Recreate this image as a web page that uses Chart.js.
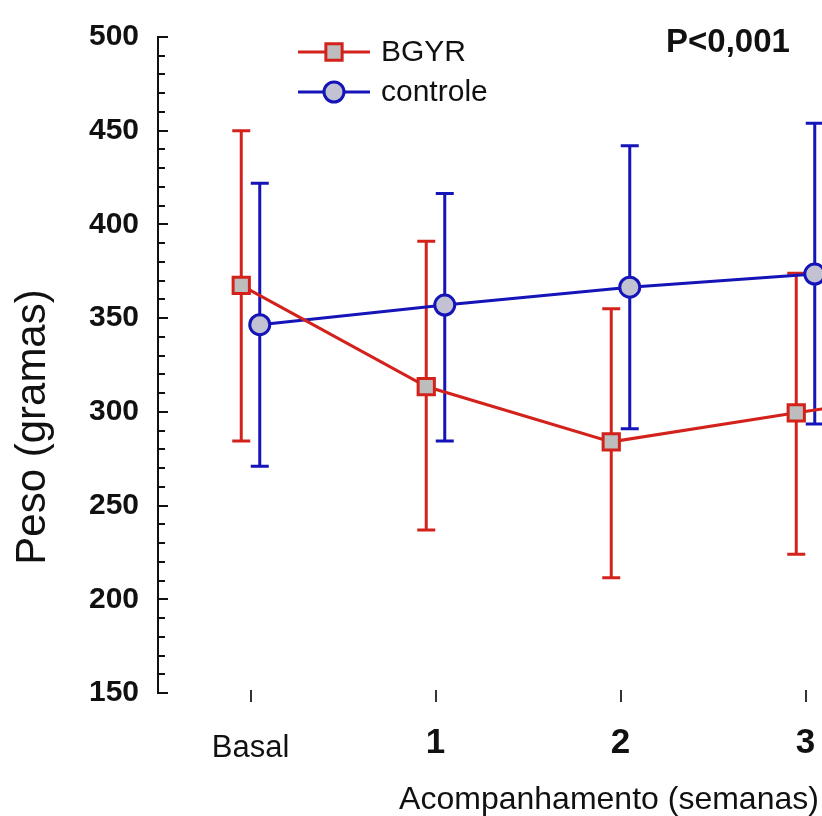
<!DOCTYPE html>
<html>
<head>
<meta charset="utf-8">
<script src="https://cdn.jsdelivr.net/npm/chart.js@4.4.1/dist/chart.umd.min.js"></script>
<style>
  html, body { margin: 0; padding: 0; overflow: hidden; background: #fff; width: 822px; height: 816px; }
  canvas { display: block; }
</style>
</head>
<body>
<canvas id="c" width="1100" height="816"></canvas>
<script>
// Follow-up points (weeks)
const weeks = ['Basal', '1', '2', '3', '4'];

// Body weight (grams): mean and error-bar limits per group
const bgyrMean  = [367.5, 313.5, 284.0, 299.5, 314.0];
const bgyrUpper = [450.0, 391.0, 355.0, 374.0, 390.0];
const bgyrLower = [284.5, 237.0, 211.5, 224.0, 238.0];

const controleMean  = [346.5, 357.0, 366.5, 373.5, 376.0];
const controleUpper = [422.0, 416.5, 442.0, 454.0, 452.0];
const controleLower = [271.0, 284.5, 291.0, 293.5, 300.0];

const yTicks = [150, 200, 250, 300, 350, 400, 450, 500];

const FONT = "'Liberation Sans', Arial, Helvetica, sans-serif";
const RED = '#d3221c';
const BLUE = '#1414b8';
const INK = '#111111';
const SHIFT = 0.05;   // side-by-side offset of the two groups

function points(mean, dx) {
  return mean.map((v, i) => ({ x: i + dx, y: v }));
}

const groupStyles = [
  { label: 'BGYR', shape: 'rect', radius: 11.5, border: RED, fill: '#bdbdbd' },
  { label: 'controle', shape: 'circle', radius: 10, border: BLUE, fill: '#c2c2d2' }
];

function drawMarker(ctx, style, cx, cy) {
  ctx.save();
  ctx.lineWidth = 3;
  ctx.strokeStyle = style.border;
  ctx.fillStyle = style.fill;
  ctx.beginPath();
  if (style.shape === 'rect') {
    const s = style.radius * Math.SQRT1_2;
    ctx.rect(cx - s, cy - s, 2 * s, 2 * s);
  } else {
    ctx.arc(cx, cy, style.radius, 0, Math.PI * 2);
  }
  ctx.fill();
  ctx.stroke();
  ctx.restore();
}

const decorations = {
  id: 'decorations',
  beforeDatasetsDraw(chart) {
    const { ctx, scales: { x, y } } = chart;
    const bars = [
      [bgyrUpper, bgyrLower, -SHIFT, RED],
      [controleUpper, controleLower, SHIFT, BLUE]
    ];
    ctx.save();
    ctx.lineWidth = 3;
    ctx.lineCap = 'butt';
    for (const [up, lo, dx, col] of bars) {
      ctx.strokeStyle = col;
      up.forEach((u, i) => {
        const px = x.getPixelForValue(i + dx);
        const p1 = y.getPixelForValue(u);
        const p2 = y.getPixelForValue(lo[i]);
        ctx.beginPath();
        ctx.moveTo(px, p1); ctx.lineTo(px, p2);
        ctx.moveTo(px - 9, p1); ctx.lineTo(px + 9, p1);
        ctx.moveTo(px - 9, p2); ctx.lineTo(px + 9, p2);
        ctx.stroke();
      });
    }
    ctx.restore();
  },
  afterDraw(chart) {
    const { ctx, scales: { x, y } } = chart;
    ctx.save();
    // vertical axis with major and minor ticks pointing inwards
    const ax = chart.chartArea.left;
    ctx.strokeStyle = INK;
    ctx.lineWidth = 2;
    ctx.beginPath();
    ctx.moveTo(ax, y.getPixelForValue(500));
    ctx.lineTo(ax, y.getPixelForValue(150));
    ctx.stroke();
    for (let v = 150; v <= 500; v += 10) {
      const py = Math.round(y.getPixelForValue(v));
      const len = v % 50 === 0 ? 10 : 7;
      ctx.beginPath();
      ctx.moveTo(ax - 1, py);
      ctx.lineTo(ax + len, py);
      ctx.stroke();
    }
    // short tick marks under each follow-up point
    ctx.lineWidth = 2;
    ctx.strokeStyle = '#333';
    weeks.forEach((_, i) => {
      const px = Math.round(x.getPixelForValue(i));
      ctx.beginPath();
      ctx.moveTo(px, 690);
      ctx.lineTo(px, 702);
      ctx.stroke();
    });

    // axis titles
    ctx.fillStyle = INK;
    ctx.font = `42px ${FONT}`;
    ctx.textAlign = 'center';
    ctx.textBaseline = 'middle';
    ctx.save();
    ctx.translate(33, 427);
    ctx.rotate(-Math.PI / 2);
    ctx.fillText('Peso (gramas)', 0, 0);
    ctx.restore();

    ctx.font = `32px ${FONT}`;
    ctx.fillText('Acompanhamento (semanas)', 609, 800);

    // significance note
    ctx.font = `bold 33px ${FONT}`;
    ctx.textAlign = 'left';
    ctx.fillText('P<0,001', 666, 43);

    // legend
    const rows = [52, 92];
    groupStyles.forEach((g, k) => {
      const ly = rows[k];
      ctx.strokeStyle = g.border;
      ctx.lineWidth = 3;
      ctx.beginPath();
      ctx.moveTo(298, ly);
      ctx.lineTo(370, ly);
      ctx.stroke();
      drawMarker(ctx, g, 334, ly);
      ctx.fillStyle = INK;
      ctx.font = `30px ${FONT}`;
      ctx.textAlign = 'left';
      ctx.textBaseline = 'middle';
      ctx.fillText(g.label, 381, ly + 1);
    });
    ctx.restore();
  }
};

new Chart(document.getElementById('c'), {
  type: 'line',
  data: {
    datasets: [
      {
        label: 'BGYR',
        data: points(bgyrMean, -SHIFT),
        borderColor: RED,
        borderWidth: 3,
        tension: 0,
        pointStyle: 'rect',
        pointRadius: groupStyles[0].radius,
        pointBackgroundColor: groupStyles[0].fill,
        pointBorderColor: RED,
        pointBorderWidth: 3
      },
      {
        label: 'controle',
        data: points(controleMean, SHIFT),
        borderColor: BLUE,
        borderWidth: 3,
        tension: 0,
        pointStyle: 'circle',
        pointRadius: groupStyles[1].radius,
        pointBackgroundColor: groupStyles[1].fill,
        pointBorderColor: BLUE,
        pointBorderWidth: 3
      }
    ]
  },
  options: {
    responsive: false,
    animation: false,
    events: [],
    layout: { padding: { top: 27, right: 17, left: 0, bottom: 0 } },
    plugins: { legend: { display: false }, tooltip: { enabled: false } },
    scales: {
      x: {
        type: 'linear',
        min: -0.5,
        max: 4.5,
        afterBuildTicks: s => { s.ticks = weeks.map((_, i) => ({ value: i })); },
        afterFit: s => { s.height = 123; },
        grid: { display: false, drawTicks: false },
        border: { display: false },
        ticks: {
          padding: 29,
          color: INK,
          maxRotation: 0,
          autoSkip: false,
          callback: v => weeks[v],
          font: c => (c.index === 0
            ? { family: FONT, size: 31, weight: 'normal', lineHeight: 1.72 }
            : { family: FONT, size: 35, weight: 'bold' })
        }
      },
      y: {
        min: 150,
        max: 500,
        afterBuildTicks: s => { s.ticks = yTicks.map(v => ({ value: v })); },
        afterFit: s => { s.width = 158; },
        grid: { display: false, drawTicks: false },
        border: { display: false },
        ticks: {
          padding: 19,
          color: INK,
          font: { family: FONT, size: 30, weight: 'bold' }
        }
      }
    }
  },
  plugins: [decorations]
});
</script>
</body>
</html>
